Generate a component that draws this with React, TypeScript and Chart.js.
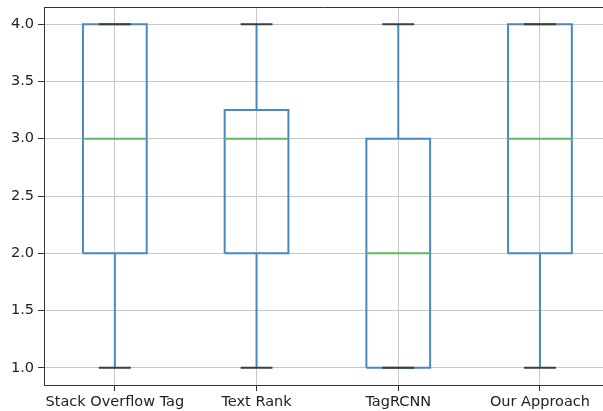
import React, { useEffect, useRef } from "react";
import { Chart, registerables } from "chart.js";

Chart.register(...registerables);

const categories = ["Stack Overflow Tag", "Text Rank", "TagRCNN", "Our Approach"];
const whiskerLow = [1, 1, 1, 1];
const q1 = [2, 2, 1, 2];
const medians = [3, 3, 2, 3];
const q3 = [4, 3.25, 3, 4];
const whiskerHigh = [4, 4, 4, 4];
const yTicks = [1.0, 1.5, 2.0, 2.5, 3.0, 3.5, 4.0];
const positions = [1, 2, 3, 4];

const BOX_HALF = 0.225;
const CAP_HALF = 0.1125;
const BLUE = "#4a88c4";
const GREEN = "#5cb85c";
const CAP = "#3c3c3c";
const FONT = { family: "DejaVu Sans", size: 14.5 };

function buildDatasets() {
  const ds: any[] = [];
  const common = {
    showLine: true,
    pointRadius: 0,
    pointHoverRadius: 0,
    borderWidth: 2,
    tension: 0,
    fill: false,
    spanGaps: false,
  };
  positions.forEach((x, i) => {
    ds.push({
      ...common,
      label: "box " + categories[i],
      borderColor: BLUE,
      order: 3,
      data: [
        { x: x - BOX_HALF, y: q1[i] },
        { x: x + BOX_HALF, y: q1[i] },
        { x: x + BOX_HALF, y: q3[i] },
        { x: x - BOX_HALF, y: q3[i] },
        { x: x - BOX_HALF, y: q1[i] },
      ],
    });
  });
  const wData: any[] = [];
  positions.forEach((x, i) => {
    wData.push({ x, y: q1[i] }, { x, y: whiskerLow[i] }, { x, y: null });
    wData.push({ x, y: q3[i] }, { x, y: whiskerHigh[i] }, { x, y: null });
  });
  ds.push({ ...common, label: "whiskers", borderColor: BLUE, order: 2, data: wData });
  const cData: any[] = [];
  positions.forEach((x, i) => {
    cData.push({ x: x - CAP_HALF, y: whiskerLow[i] }, { x: x + CAP_HALF, y: whiskerLow[i] }, { x, y: null });
    cData.push({ x: x - CAP_HALF, y: whiskerHigh[i] }, { x: x + CAP_HALF, y: whiskerHigh[i] }, { x, y: null });
  });
  ds.push({ ...common, label: "caps", borderColor: CAP, order: 0, data: cData });
  const mData: any[] = [];
  positions.forEach((x, i) => {
    mData.push({ x: x - BOX_HALF, y: medians[i] }, { x: x + BOX_HALF, y: medians[i] }, { x, y: null });
  });
  ds.push({ ...common, label: "medians", borderColor: GREEN, order: 1, data: mData });
  return ds;
}

const topSpine = {
  id: "topSpine",
  beforeDatasetsDraw(chart: any) {
    const { ctx, chartArea } = chart;
    ctx.save();
    ctx.strokeStyle = "#333333";
    ctx.lineWidth = 1;
    ctx.beginPath();
    ctx.moveTo(chartArea.left, Math.round(chartArea.top) + 0.5);
    ctx.lineTo(chartArea.right, Math.round(chartArea.top) + 0.5);
    ctx.stroke();
    ctx.restore();
  },
};

export default function App() {
  const ref = useRef<HTMLCanvasElement>(null);
  useEffect(() => {
    if (!ref.current) return;
    const chart = new Chart(ref.current, {
      type: "scatter",
      data: { datasets: buildDatasets() },
      plugins: [topSpine],
      options: {
        animation: false,
        responsive: false,
        devicePixelRatio: 1,
        layout: { padding: { top: 7, right: 0, left: 0, bottom: 0 } },
        plugins: { legend: { display: false }, tooltip: { enabled: false } },
        scales: {
          x: {
            type: "linear",
            min: 0.5,
            max: 4.445,
            afterBuildTicks: (axis: any) => {
              axis.ticks = positions.map((v) => ({ value: v }));
            },
            afterFit: (s: any) => {
              s.height = 26;
              s.paddingLeft = 0;
              s.paddingRight = 0;
            },
            ticks: {
              autoSkip: false,
              maxRotation: 0,
              padding: 3,
              color: "#222222",
              font: FONT,
              callback: (v: any) => {
                const idx = positions.indexOf(Number(v));
                return idx >= 0 ? categories[idx] : "";
              },
            },
            grid: {
              color: "#c8c8c8",
              lineWidth: 1,
              tickLength: 6,
              tickColor: "#333333",
              tickWidth: 1,
            },
            border: { color: "#333333", width: 1 },
          },
          y: {
            type: "linear",
            min: 0.85,
            max: 4.15,
            afterBuildTicks: (axis: any) => {
              axis.ticks = yTicks.map((v) => ({ value: v }));
            },
            afterFit: (s: any) => {
              s.width = 44;
              s.paddingTop = 0;
              s.paddingBottom = 0;
            },
            ticks: {
              padding: 4,
              color: "#222222",
              font: FONT,
              callback: (v: any) => Number(v).toFixed(1),
            },
            grid: {
              color: "#c8c8c8",
              lineWidth: 1,
              tickLength: 6,
              tickColor: "#333333",
              tickWidth: 1,
            },
            border: { color: "#333333", width: 1 },
          },
        },
      },
    } as any);
    return () => chart.destroy();
  }, []);
  return (
    <div style={{ position: "fixed", left: 0, top: 0, width: 603, height: 411, background: "#fff" }}>
      <canvas ref={ref} width={603} height={411} style={{ display: "block" }} />
    </div>
  );
}
